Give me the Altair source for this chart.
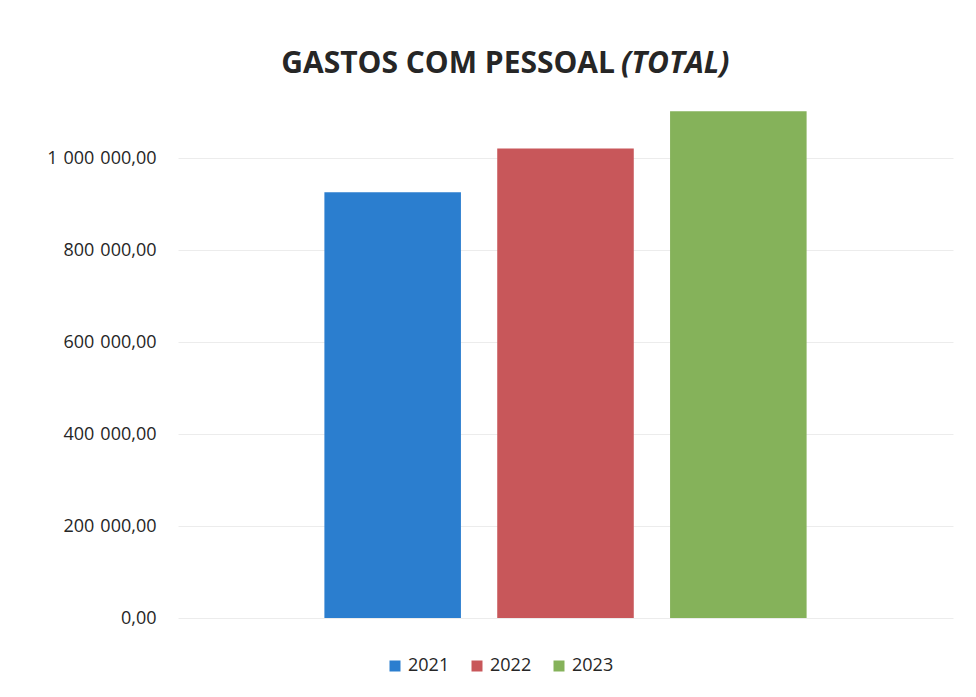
import altair as alt
import pandas as pd

years = ["2021", "2022", "2023"]
values = [926000, 1021000, 1102000]
colors = ["#2b7ecf", "#c8575a", "#85b25a"]
y_ticks = [0, 200000, 400000, 600000, 800000, 1000000]
title_main = "GASTOS COM PESSOAL"
title_italic = "(TOTAL)"

df = pd.DataFrame({"Ano": years, "Valor": values})

label_expr = (
    "replace(replace(format(datum.value, ',.2f'), regexp(',', 'g'), '\u2009\u2009'), '.', ',')"
)

bars = alt.Chart(df).mark_bar().encode(
    x=alt.X("Ano:N", axis=None,
            scale=alt.Scale(paddingInner=0.21, paddingOuter=0.847)),
    y=alt.Y("Valor:Q",
            scale=alt.Scale(domain=[0, 1120000], nice=False, zero=True),
            axis=alt.Axis(values=y_ticks, title=None, ticks=False, domain=False,
                          labelExpr=label_expr, labelPadding=22,
                          labelFontSize=18, labelFont="Open Sans",
                          labelColor="#262626", gridColor="#ececec",
                          gridWidth=1)),
    color=alt.Color("Ano:N",
                    scale=alt.Scale(domain=years, range=colors),
                    legend=alt.Legend(orient="none", legendX=208, legendY=554,
                                      direction="horizontal", title=None,
                                      symbolType="square", symbolSize=121,
                                      symbolStrokeWidth=0,
                                      labelFontSize=18, labelFont="Open Sans",
                                      labelColor="#262626", labelOffset=4,
                                      columnPadding=18)),
)

t1 = alt.Chart(pd.DataFrame({"t": [title_main]})).mark_text(
    align="right", baseline="alphabetic", font="Open Sans", fontSize=30,
    fontWeight="bold", color="#262626"
).encode(text="t:N", x=alt.value(437), y=alt.value(-30))

t2 = alt.Chart(pd.DataFrame({"t": [title_italic]})).mark_text(
    align="left", baseline="alphabetic", font="Open Sans", fontSize=30,
    fontWeight="bold", fontStyle="italic", color="#262626"
).encode(text="t:N", x=alt.value(443), y=alt.value(-30))

chart = alt.layer(bars, t1, t2).properties(
    width=775, height=515,
    autosize=alt.AutoSizeParams(type="none"),
    padding={"left": 170, "top": 95, "right": 15, "bottom": 71},
).configure_view(stroke=None)

chart.save("out.html", embed_options={"renderer": "svg", "actions": False})
